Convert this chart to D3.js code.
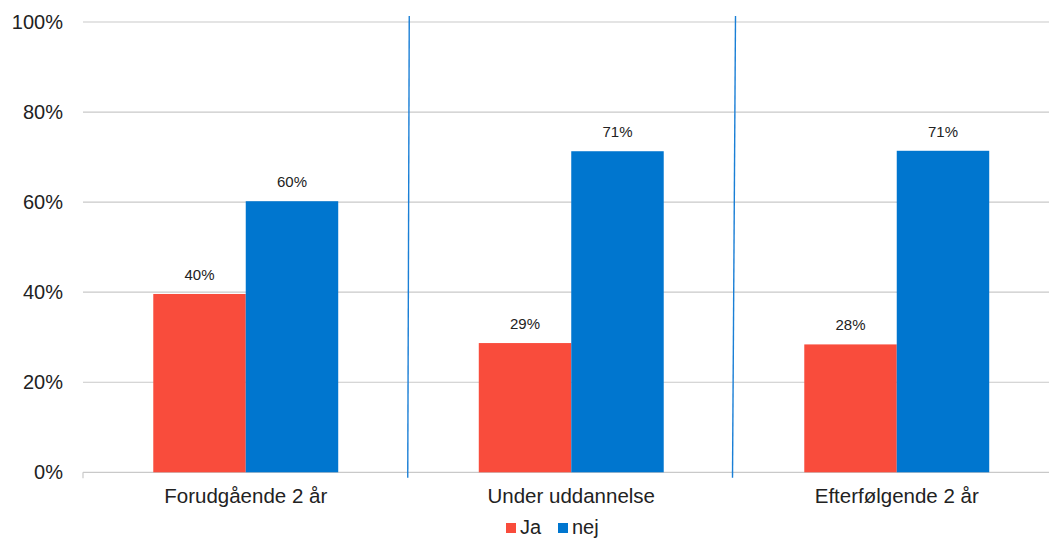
<!DOCTYPE html>
<html>
<head>
<meta charset="utf-8">
<script src="https://cdn.jsdelivr.net/npm/d3@7"></script>
<style>
  html, body { margin: 0; padding: 0; background: #fff; }
  svg { display: block; font-family: "Liberation Sans", Arial, sans-serif; }
</style>
</head>
<body>
<svg id="chart" width="1049" height="540"></svg>
<script>
// Periods compared
const categories = ["Forudgående 2 år", "Under uddannelse", "Efterfølgende 2 år"];
// Share of answers per period (percent)
const jaValues = [39.6, 28.7, 28.4];
const nejValues = [60.2, 71.3, 71.4];
const seriesNames = ["Ja", "nej"];
const seriesColors = ["#F94C3C", "#0076CF"];
const yTicks = [0, 20, 40, 60, 80, 100];

const series = [jaValues, nejValues];

const svg = d3.select("#chart");
const plot = { left: 83, right: 1059.5, top: 22, bottom: 472.3 };

const x = d3.scaleBand()
  .domain(categories)
  .range([plot.left, plot.right])
  .paddingInner(0)
  .paddingOuter(0);

// Two bars per period, centred with wide gaps either side
const inner = d3.scaleBand()
  .domain(seriesNames)
  .range([0, x.bandwidth()])
  .paddingInner(0)
  .paddingOuter(0.76);

const y = d3.scaleLinear().domain([0, 100]).range([plot.bottom, plot.top]);

// Horizontal gridlines
svg.append("g")
  .selectAll("line")
  .data(yTicks)
  .join("line")
  .attr("x1", plot.left)
  .attr("x2", plot.right)
  .attr("y1", d => y(d))
  .attr("y2", d => y(d))
  .attr("stroke", "#c9c9c9")
  .attr("stroke-width", 1.2);

// Y axis labels
svg.append("g")
  .selectAll("text")
  .data(yTicks)
  .join("text")
  .attr("x", plot.left - 20)
  .attr("y", d => y(d))
  .attr("dy", "0.35em")
  .attr("text-anchor", "end")
  .attr("font-size", 20)
  .attr("fill", "#222")
  .text(d => d + "%");

// Tick at the axis start
svg.append("line")
  .attr("x1", plot.left).attr("x2", plot.left)
  .attr("y1", plot.bottom).attr("y2", plot.bottom + 6)
  .attr("stroke", "#c9c9c9").attr("stroke-width", 1.2);

// Bars
const groups = svg.append("g")
  .selectAll("g")
  .data(categories)
  .join("g")
  .attr("transform", d => `translate(${x(d)},0)`);

seriesNames.forEach((name, si) => {
  groups.append("rect")
    .attr("x", inner(name))
    .attr("width", inner.bandwidth())
    .attr("y", (d, i) => y(series[si][i]))
    .attr("height", (d, i) => y(0) - y(series[si][i]))
    .attr("fill", seriesColors[si]);

  groups.append("text")
    .attr("x", inner(name) + inner.bandwidth() / 2)
    .attr("y", (d, i) => y(series[si][i]) - 14)
    .attr("text-anchor", "middle")
    .attr("font-size", 15)
    .attr("fill", "#222")
    .text((d, i) => Math.round(series[si][i]) + "%");
});

// Category labels
svg.append("g")
  .selectAll("text")
  .data(categories)
  .join("text")
  .attr("x", d => x(d) + x.bandwidth() / 2)
  .attr("y", plot.bottom + 31)
  .attr("text-anchor", "middle")
  .attr("font-size", 20.5)
  .attr("fill", "#222")
  .text(d => d);

// Period separators
const separators = categories.slice(1).map((d, i) => ({ pos: x(d), lean: i === 0 ? 1.5 : 3 }));
svg.append("g")
  .selectAll("line")
  .data(separators)
  .join("line")
  .attr("x1", d => d.pos + d.lean / 2)
  .attr("x2", d => d.pos - d.lean / 2)
  .attr("y1", 16)
  .attr("y2", plot.bottom + 5.5)
  .attr("stroke", "#1a7fd6")
  .attr("stroke-width", 1.4);

// Legend
const legend = svg.append("g").attr("transform", "translate(506,523)");
const legendOffsets = [0, 52];
seriesNames.forEach((name, i) => {
  const g = legend.append("g").attr("transform", `translate(${legendOffsets[i]},0)`);
  g.append("rect").attr("width", 10).attr("height", 10).attr("fill", seriesColors[i]);
  g.append("text")
    .attr("x", 14)
    .attr("y", 11)
    .attr("font-size", 20)
    .attr("fill", "#222")
    .text(name);
});
</script>
</body>
</html>
